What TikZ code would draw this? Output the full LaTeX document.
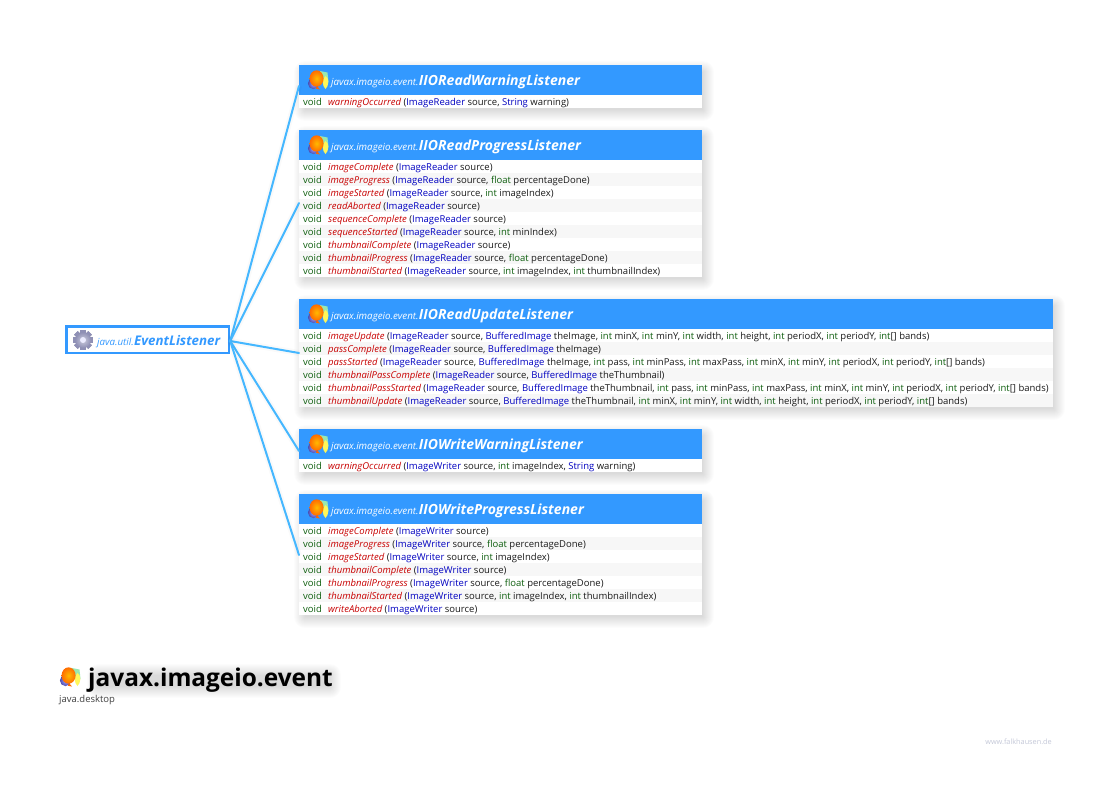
\documentclass[tikz,border=0pt]{standalone}
\usepackage{fontspec}
\setmainfont{Open Sans}
\usetikzlibrary{calc}
\definecolor{hdr}{HTML}{3399FF}
\definecolor{wire}{HTML}{45B7FF}
\definecolor{stripe}{HTML}{F7F7F7}
\definecolor{kw}{HTML}{0F5F0F}
\definecolor{ty}{HTML}{0000C0}
\definecolor{meth}{HTML}{C80000}
\definecolor{argc}{HTML}{1A1A1A}
\definecolor{sitec}{HTML}{C4C8D8}
\definecolor{gearc}{HTML}{8F90B5}
\tikzset{
  x=1pt,y=-1pt,
  cardbody/.style={anchor=north west,fill=white,inner sep=0pt,minimum height={#1}},
  cardhead/.style={anchor=north west,fill=hdr,inner sep=0pt,minimum height=30pt},
  pkg/.style={anchor=base west,inner sep=0pt,text=white,font=\fontsize{9.75}{12}\selectfont\itshape},
  cls/.style={anchor=base west,inner sep=0pt,text=white,font=\fontsize{14}{16}\selectfont\bfseries\itshape},
  rowtext/.style={anchor=base west,inner sep=0pt,text=argc,font=\fontsize{9.5}{11}\selectfont},
  wireline/.style={draw=wire,line width=2pt,line cap=round,preaction={draw=black,opacity=.02,line width=6pt}}
}
\newcommand{\softshadow}[4]{% x0 y0 x1 y1
  \foreach \i in {0,...,11}{
    \fill[black,opacity=.012,rounded corners=\i pt]
      ({#1+6-\i},{#2+7-\i}) rectangle ({#3+1+\i},{#4+2+\i});
  }}
\newcommand{\balloons}[3]{% x y scale: top-left of a 21 unit icon
  \begin{scope}[shift={(#1,#2)},scale=#3]
    \shade[inner color=blue!35!white,outer color=blue!55!black!70!white] (5.5,13.5) circle (5.6);
    \fill[teal!45!green!40!white] (12,1) -- (19.5,2.5) -- (20.5,12) -- (13,12) -- cycle;
    \fill[yellow!65!white] (17.5,6) .. controls (21.5,8) and (21,16) .. (17.5,19) .. controls (14,16) and (14,9) .. (17.5,6) -- cycle;
    \shade[inner color=orange!55!yellow,outer color=orange!85!red] (8.6,8.5) ellipse (7 and 8.2);
    \fill[orange!80!red] (9,16) -- (12,19.5) -- (8,18.8) -- cycle;
  \end{scope}}
\newcommand{\gearicon}[2]{%
  \begin{scope}[shift={(#1,#2)}]
    \foreach \a in {0,45,...,315}{
      \fill[rotate=\a,gearc] (-2.6,-10) rectangle (2.6,10);
    }
    \shade[inner color=gearc!45!white,outer color=gearc] (0,0) circle (7.8);
    \fill[white!92!blue] (0,0) circle (3);
  \end{scope}}
\newcommand{\tp}[1]{\textcolor{ty}{#1}}
\newcommand{\kw}[1]{\textcolor{kw}{#1}}
\newcommand{\mrow}[4]{% card, index, method, args
  \node[rowtext] (#1m#2) at (303,{\csname top#1\endcsname+30+13*(#2-1)+10})
    {\makebox[25pt][l]{\kw{void}}\textcolor{meth}{\itshape #3} #4};}
\newcommand{\card}[5]{% name, top, rows, width, class
  \expandafter\def\csname top#1\endcsname{#2}
  \softshadow{299}{#2}{299+#4}{#2+30+13*#3}
  \node[cardbody={30+13*#3},minimum width=#4pt] (#1) at (299,#2) {};
  \foreach \k in {2,4,...,#3}{
    \ifnum\k>#3\else
    \fill[stripe] (299,{#2+30+13*(\k-1)}) rectangle ({299+#4},{#2+30+13*\k});
    \fi
  }
  \node[cardhead,minimum width=#4pt] (#1h) at (299,#2) {};
  \balloons{308}{#2+5}{1}
  \node[pkg] (#1p) at (331,#2+20) {javax.imageio.event.};
  \node[cls] (#1c) at (#1p.base east) {#5};
}
\begin{document}
\begin{tikzpicture}
\useasboundingbox (0,0) rectangle (1109,787);
\fill[white] (0,0) rectangle (1109,787);

\card{ra}{65}{1}{403}{IIOReadWarningListener}
\mrow{ra}{1}{warningOccurred}{(\tp{ImageReader} source, \tp{String} warning)}

\card{rb}{130}{9}{403}{IIOReadProgressListener}
\mrow{rb}{1}{imageComplete}{(\tp{ImageReader} source)}
\mrow{rb}{2}{imageProgress}{(\tp{ImageReader} source, \kw{float} percentageDone)}
\mrow{rb}{3}{imageStarted}{(\tp{ImageReader} source, \kw{int} imageIndex)}
\mrow{rb}{4}{readAborted}{(\tp{ImageReader} source)}
\mrow{rb}{5}{sequenceComplete}{(\tp{ImageReader} source)}
\mrow{rb}{6}{sequenceStarted}{(\tp{ImageReader} source, \kw{int} minIndex)}
\mrow{rb}{7}{thumbnailComplete}{(\tp{ImageReader} source)}
\mrow{rb}{8}{thumbnailProgress}{(\tp{ImageReader} source, \kw{float} percentageDone)}
\mrow{rb}{9}{thumbnailStarted}{(\tp{ImageReader} source, \kw{int} imageIndex, \kw{int} thumbnailIndex)}

\card{rc}{299}{6}{754}{IIOReadUpdateListener}
\mrow{rc}{1}{imageUpdate}{(\tp{ImageReader} source, \tp{BufferedImage} theImage, \kw{int} minX, \kw{int} minY, \kw{int} width, \kw{int} height, \kw{int} periodX, \kw{int} periodY, \kw{int}[] bands)}
\mrow{rc}{2}{passComplete}{(\tp{ImageReader} source, \tp{BufferedImage} theImage)}
\mrow{rc}{3}{passStarted}{(\tp{ImageReader} source, \tp{BufferedImage} theImage, \kw{int} pass, \kw{int} minPass, \kw{int} maxPass, \kw{int} minX, \kw{int} minY, \kw{int} periodX, \kw{int} periodY, \kw{int}[] bands)}
\mrow{rc}{4}{thumbnailPassComplete}{(\tp{ImageReader} source, \tp{BufferedImage} theThumbnail)}
\mrow{rc}{5}{thumbnailPassStarted}{(\tp{ImageReader} source, \tp{BufferedImage} theThumbnail, \kw{int} pass, \kw{int} minPass, \kw{int} maxPass, \kw{int} minX, \kw{int} minY, \kw{int} periodX, \kw{int} periodY, \kw{int}[] bands)}
\mrow{rc}{6}{thumbnailUpdate}{(\tp{ImageReader} source, \tp{BufferedImage} theThumbnail, \kw{int} minX, \kw{int} minY, \kw{int} width, \kw{int} height, \kw{int} periodX, \kw{int} periodY, \kw{int}[] bands)}

\card{wa}{429}{1}{403}{IIOWriteWarningListener}
\mrow{wa}{1}{warningOccurred}{(\tp{ImageWriter} source, \kw{int} imageIndex, \tp{String} warning)}

\card{wb}{494}{7}{403}{IIOWriteProgressListener}
\mrow{wb}{1}{imageComplete}{(\tp{ImageWriter} source)}
\mrow{wb}{2}{imageProgress}{(\tp{ImageWriter} source, \kw{float} percentageDone)}
\mrow{wb}{3}{imageStarted}{(\tp{ImageWriter} source, \kw{int} imageIndex)}
\mrow{wb}{4}{thumbnailComplete}{(\tp{ImageWriter} source)}
\mrow{wb}{5}{thumbnailProgress}{(\tp{ImageWriter} source, \kw{float} percentageDone)}
\mrow{wb}{6}{thumbnailStarted}{(\tp{ImageWriter} source, \kw{int} imageIndex, \kw{int} thumbnailIndex)}
\mrow{wb}{7}{writeAborted}{(\tp{ImageWriter} source)}

% root node
\node[anchor=north west,draw=hdr,line width=2.6pt,fill=white,inner sep=0pt,minimum width=162.4pt,minimum height=26.8pt] (root) at (65.2,325) {};

% connector ends on the left edge of each card
\coordinate (ea) at (ra.west |- 0,86);
\coordinate (eb) at (rb.west |- 0,203);
\coordinate (ec) at (rc.west |- 0,353);
\coordinate (ed) at (wa.west |- 0,451);
\coordinate (ee) at (wb.west |- 0,555);
\coordinate (hub) at (root.east |- 0,341);
\foreach \e in {ea,eb,ec,ed,ee}{
  \draw[wireline] (hub) -- (\e);
}
\gearicon{83}{340}
\node[anchor=base west,inner sep=0pt,text=hdr,font=\fontsize{9.75}{12}\selectfont\itshape] (rootp) at (97,345) {java.util.};
\node[anchor=base west,inner sep=0pt,text=hdr,font=\fontsize{13.3}{16}\selectfont\bfseries\itshape] (rootc) at (rootp.base east) {EventListener};

% title
\foreach \i in {0,...,11}{
  \fill[black,opacity=.012,rounded corners=\i pt] ({98-\i},{675-\i}) rectangle ({330+\i},{687+\i});
}
\balloons{60}{667}{1}
\node[anchor=base west,inner sep=0pt,text=black,font=\fontsize{24.4}{28}\selectfont\bfseries] (title) at (88,686) {javax.imageio.event};
\node[anchor=base west,inner sep=0pt,text=black!75,font=\fontsize{9.5}{11}\selectfont] (module) at (59,702) {java.desktop};
\node[anchor=base east,inner sep=0pt,text=sitec,font=\fontsize{7.3}{9}\selectfont] (site) at (1052,744) {www.falkhausen.de};
\end{tikzpicture}
\end{document}
